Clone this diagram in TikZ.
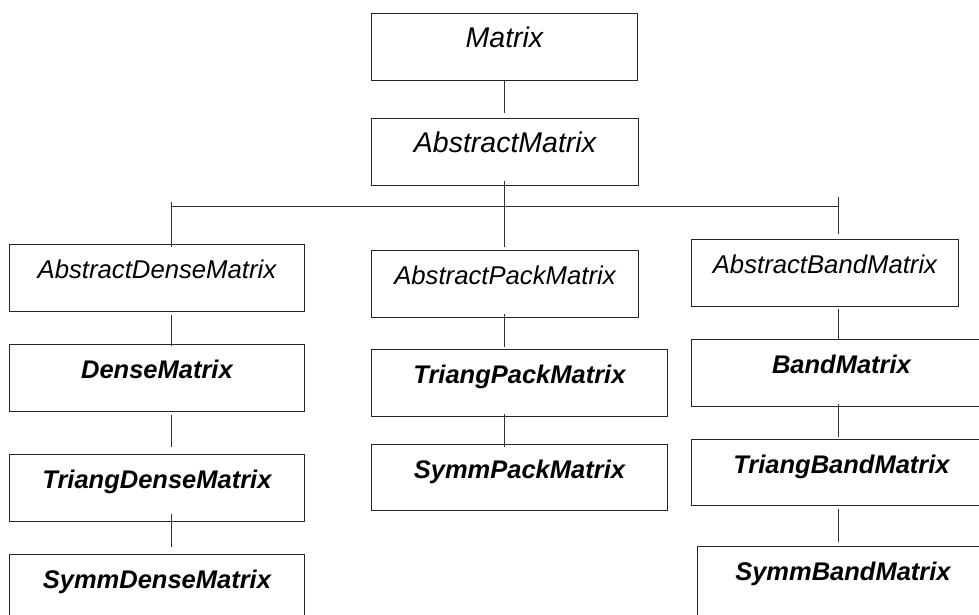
\documentclass[tikz,border=0pt]{standalone}
\usepackage{fontspec}
\setmainfont{Liberation Sans}
\usetikzlibrary{calc}
\begin{document}
\begin{tikzpicture}[x=1pt,y=-1pt,
  box/.style={draw=black!85, line width=0.9pt, anchor=north west, inner xsep=0pt, inner ysep=0pt, text height=34pt, text depth=33pt},
  tall/.style={text depth=60pt},
  topbox/.style={box, font=\fontsize{28.5}{34}\selectfont\itshape},
  absbox/.style={box, font=\fontsize{25.7}{30}\selectfont\itshape},
  concbox/.style={box, font=\fontsize{25.5}{30}\selectfont\bfseries\itshape},
  link/.style={draw=black!80, line width=0.9pt}]
\useasboundingbox (0,0) rectangle (979,615);
\clip (0,0) rectangle (979,615);
% top
\node[topbox, minimum width=266pt] (M)  at (371,13)  {Matrix};
\node[topbox, minimum width=267pt] (AM) at (371,118) {AbstractMatrix};
% left column
\node[absbox,  minimum width=295pt] (ADM) at (9,244) {AbstractDenseMatrix};
\node[concbox, minimum width=295pt] (DM)  at (9,344) {DenseMatrix};
\node[concbox, minimum width=295pt] (TDM) at (9,454) {TriangDenseMatrix};
\node[concbox, tall, minimum width=295pt] (SDM) at (9,554) {SymmDenseMatrix};
% middle column
\node[absbox,  minimum width=267pt] (APM) at (371,250) {AbstractPackMatrix};
\node[concbox, minimum width=296pt] (TPM) at (371,349) {TriangPackMatrix};
\node[concbox, minimum width=296pt, text depth=32pt] (SPM) at (371,444) {SymmPackMatrix};
% right column
\node[absbox,  minimum width=267pt] (ABM) at (691,239) {AbstractBandMatrix};
\node[concbox, minimum width=300pt] (BM)  at (691,339) {BandMatrix};
\node[concbox, minimum width=300pt, text depth=32pt] (TBM) at (691,439) {TriangBandMatrix};
\node[concbox, tall, minimum width=291pt] (SBM) at (697,546) {SymmBandMatrix};
% connector columns
\coordinate (cL) at (171,0);
\coordinate (cM) at (504,0);
\coordinate (cR) at (838,0);
\coordinate (busL) at (171,206);
\coordinate (busR) at (838,206);
% links
\draw[link] (M.south -| cM) -- ($(AM.north -| cM)+(0,-5)$);
\draw[link] ($(AM.south -| cM)+(0,-5)$) -- ($(APM.north -| cM)+(0,-3)$);
\draw[link] (busL) -- (busR);
\draw[link] ($(busL)+(0,-4)$) -- ($(ADM.north -| cL)+(0,3)$);
\draw[link] ($(busR)+(0,-9)$) -- ($(ABM.north -| cR)+(0,-5)$);
\draw[link] ($(ADM.south -| cL)+(0,3)$) -- ($(DM.north -| cL)+(0,2)$);
\draw[link] ($(DM.south -| cL)+(0,3)$) -- ($(TDM.north -| cL)+(0,-7)$);
\draw[link] ($(TDM.south -| cL)+(0,-8)$) -- ($(SDM.north -| cL)+(0,-7)$);
\draw[link] ($(APM.south -| cM)+(0,-4)$) -- ($(TPM.north -| cM)+(0,-2)$);
\draw[link] ($(TPM.south -| cM)+(0,-3)$) -- ($(SPM.north -| cM)+(0,3)$);
\draw[link] ($(ABM.south -| cR)+(0,2)$) -- ($(BM.north -| cR)+(0,1)$);
\draw[link] ($(BM.south -| cR)+(0,-3)$) -- ($(TBM.north -| cR)+(0,-2)$);
\draw[link] ($(TBM.south -| cR)+(0,3)$) -- ($(SBM.north -| cR)+(0,-4)$);
\end{tikzpicture}
\end{document}
